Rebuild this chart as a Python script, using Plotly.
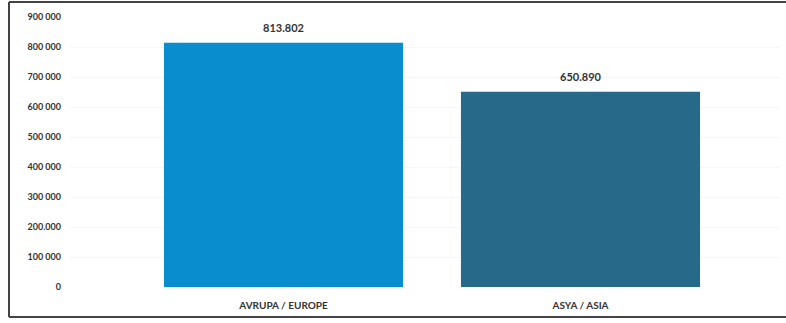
import plotly.graph_objects as go

# Regional totals
categories = ["AVRUPA / EUROPE", "ASYA / ASIA"]
values = [813802, 650890]
value_labels = ["813.802", "650.890"]
bar_colors = ["#0A8DCF", "#266988"]
tick_vals = [0, 100000, 200000, 300000, 400000, 500000, 600000, 700000, 800000, 900000]
tick_text = ["0", "100 000", "200.000", "300 000", "400 000", "500 000",
             "600 000", "700 000", "800 000", "900 000"]

W, H = 786, 323
ML, MR, MT, MB = 70, 6, 17, 36

xs = list(range(len(categories)))

fig = go.Figure()
fig.add_trace(go.Bar(
    x=xs,
    y=values,
    marker=dict(color=bar_colors, line=dict(width=0)),
    width=0.805,
))

# value labels above each bar
for xv, yv, lab in zip(xs, values, value_labels):
    fig.add_annotation(
        x=xv, y=yv, text=lab, showarrow=False,
        yanchor="bottom", yshift=7,
        font=dict(family="Lato", size=11, color="#333333", weight="bold"),
    )

plot_w = W - ML - MR
# category centre spacing (px) and first centre (px)
step = 297.0
c0 = 283.5
x_lo = (ML - c0) / step
x_hi = (W - MR - c0) / step

fig.update_layout(
    width=W, height=H,
    margin=dict(l=ML, r=MR, t=MT, b=MB),
    paper_bgcolor="white", plot_bgcolor="white",
    showlegend=False,
    xaxis=dict(
        range=[x_lo, x_hi],
        tickvals=xs,
        ticktext=categories,
        showgrid=False, zeroline=False, showline=False,
        tickfont=dict(family="Lato", size=10, color="#333333", weight="bold"),
        ticklabelstandoff=11,
    ),
    yaxis=dict(
        range=[0, 900000],
        tickvals=tick_vals,
        ticktext=tick_text,
        showgrid=True, gridcolor="#f6f6f6", gridwidth=1,
        zeroline=False, showline=False,
        tickfont=dict(family="Lato", size=9, color="#333333", weight="bold"),
        ticklabelstandoff=8,
    ),
)

# Frame around the chart
def px_x(p):
    return (p - ML) / plot_w

def px_y(p):
    return (H - MB - p) / (H - MT - MB)

fig.add_shape(type="line", xref="paper", yref="paper",
              x0=px_x(9), x1=px_x(9), y0=px_y(2), y1=px_y(317),
              line=dict(color="#444444", width=2))
fig.add_shape(type="line", xref="paper", yref="paper",
              x0=px_x(9), x1=px_x(786), y0=px_y(317), y1=px_y(317),
              line=dict(color="#444444", width=2))
fig.add_shape(type="line", xref="paper", yref="paper",
              x0=px_x(9), x1=px_x(786), y0=px_y(2), y1=px_y(2),
              line=dict(color="#444444", width=2))

fig.write_html("out.html")
